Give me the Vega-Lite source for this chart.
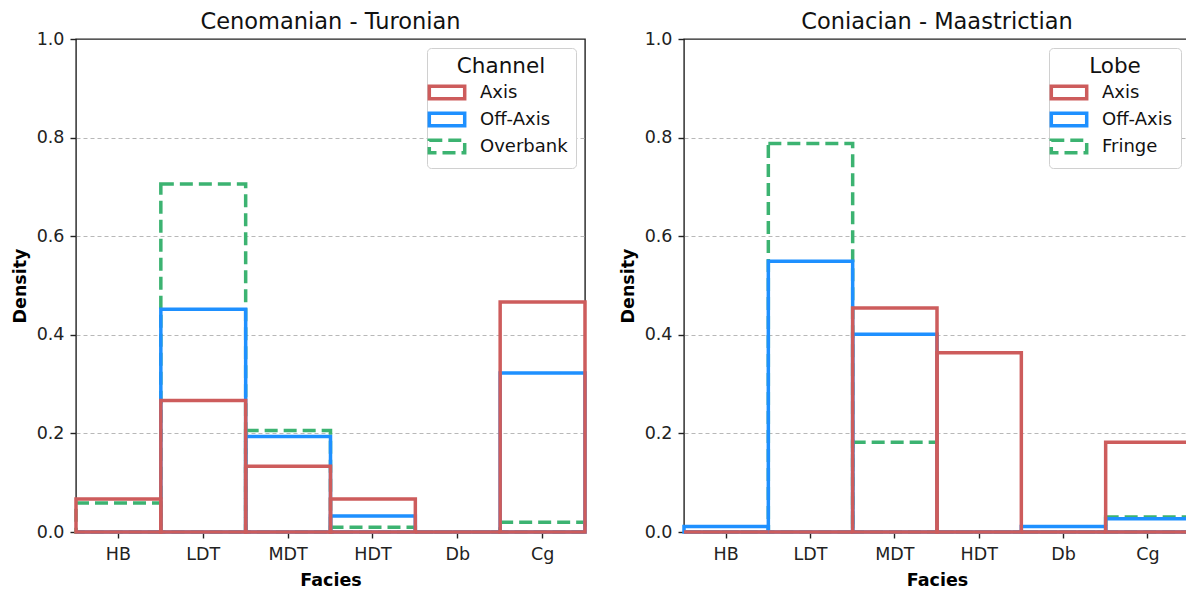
{
  "$schema": "https://vega.github.io/schema/vega-lite/v6.json",
  "padding": {"left": 10, "top": 9, "right": 0, "bottom": 0},
  "spacing": 30,
  "config": {
    "font": "DejaVu Sans",
    "view": {"stroke": "#222", "strokeWidth": 1.4},
    "axis": {"labelFont": "DejaVu Sans", "labelFontSize": 17.5, "labelColor": "#222", "titleFont": "DejaVu Sans", "titleFontSize": 17.5, "titleFontWeight": "bold", "titleColor": "#000", "tickColor": "#222", "tickSize": 6, "tickWidth": 1.4, "domain": false, "labelPadding": 5},
    "title": {"font": "DejaVu Sans", "fontSize": 22.5, "fontWeight": "normal", "color": "#111", "offset": -3},
    "legend": {"orient": "top-right", "offset": 9, "fillColor": "white", "strokeColor": "#d0d0d0", "cornerRadius": 4, "padding": 8, "titleFont": "DejaVu Sans", "titleFontSize": 21.5, "titleFontWeight": "normal", "titleColor": "#111", "titleAnchor": "middle", "titlePadding": 3, "labelFont": "DejaVu Sans", "labelFontSize": 18, "labelColor": "#111", "symbolType": "M-1.77,-0.62H1.77V0.62H-1.77Z", "symbolSize": 400, "symbolStrokeWidth": 3.5, "rowPadding": -1, "labelOffset": 21}
  },
  "datasets": {
    "left": [
      {"Facies": "HB", "Group": "Overbank", "Density": 0.0588},
      {"Facies": "LDT", "Group": "Overbank", "Density": 0.7059},
      {"Facies": "MDT", "Group": "Overbank", "Density": 0.2059},
      {"Facies": "HDT", "Group": "Overbank", "Density": 0.0098},
      {"Facies": "Db", "Group": "Overbank", "Density": 0},
      {"Facies": "Cg", "Group": "Overbank", "Density": 0.0196},
      {"Facies": "HB", "Group": "Off-Axis", "Density": 0},
      {"Facies": "LDT", "Group": "Off-Axis", "Density": 0.4516},
      {"Facies": "MDT", "Group": "Off-Axis", "Density": 0.1935},
      {"Facies": "HDT", "Group": "Off-Axis", "Density": 0.0323},
      {"Facies": "Db", "Group": "Off-Axis", "Density": 0},
      {"Facies": "Cg", "Group": "Off-Axis", "Density": 0.3226},
      {"Facies": "HB", "Group": "Axis", "Density": 0.0667},
      {"Facies": "LDT", "Group": "Axis", "Density": 0.2667},
      {"Facies": "MDT", "Group": "Axis", "Density": 0.1333},
      {"Facies": "HDT", "Group": "Axis", "Density": 0.0667},
      {"Facies": "Db", "Group": "Axis", "Density": 0},
      {"Facies": "Cg", "Group": "Axis", "Density": 0.4667}
    ],
    "right": [
      {"Facies": "HB", "Group": "Fringe", "Density": 0},
      {"Facies": "LDT", "Group": "Fringe", "Density": 0.7879},
      {"Facies": "MDT", "Group": "Fringe", "Density": 0.1818},
      {"Facies": "HDT", "Group": "Fringe", "Density": 0},
      {"Facies": "Db", "Group": "Fringe", "Density": 0},
      {"Facies": "Cg", "Group": "Fringe", "Density": 0.0303},
      {"Facies": "HB", "Group": "Off-Axis", "Density": 0.011},
      {"Facies": "LDT", "Group": "Off-Axis", "Density": 0.549},
      {"Facies": "MDT", "Group": "Off-Axis", "Density": 0.401},
      {"Facies": "HDT", "Group": "Off-Axis", "Density": 0},
      {"Facies": "Db", "Group": "Off-Axis", "Density": 0.011},
      {"Facies": "Cg", "Group": "Off-Axis", "Density": 0.027},
      {"Facies": "HB", "Group": "Axis", "Density": 0},
      {"Facies": "LDT", "Group": "Axis", "Density": 0},
      {"Facies": "MDT", "Group": "Axis", "Density": 0.4545},
      {"Facies": "HDT", "Group": "Axis", "Density": 0.3636},
      {"Facies": "Db", "Group": "Axis", "Density": 0},
      {"Facies": "Cg", "Group": "Axis", "Density": 0.1818}
    ]
  },
  "resolve": {"scale": {"color": "independent", "strokeDash": "independent"}, "legend": {"color": "independent", "strokeDash": "independent"}},
  "hconcat": [
    {
      "width": 509, "height": 493,
      "title": "Cenomanian - Turonian",
      "data": {"name": "left"},
      "mark": {"type": "bar", "filled": false, "strokeWidth": 3.5, "strokeJoin": "miter"},
      "encoding": {
        "x": {"field": "Facies", "type": "nominal", "sort": ["HB", "LDT", "MDT", "HDT", "Db", "Cg"], "scale": {"paddingInner": 0, "paddingOuter": 0}, "axis": {"labelAngle": 0, "title": "Facies", "titlePadding": 9, "labelPadding": 7}},
        "y": {"field": "Density", "type": "quantitative", "stack": null, "scale": {"domain": [0, 1], "nice": false}, "axis": {"values": [0, 0.2, 0.4, 0.6, 0.8, 1.0], "format": ".1f", "grid": true, "gridDash": [4, 3], "gridColor": {"condition": {"test": "datum.value >= 0.99 || datum.value <= 0.01", "value": "transparent"}, "value": "#b8b8b8"}, "gridWidth": 1, "title": "Density", "titlePadding": 7, "labelPadding": 6}},
        "color": {"field": "Group", "type": "nominal", "scale": {"domain": ["Axis", "Off-Axis", "Overbank"], "range": ["#cd5c5c", "#1e90ff", "#3cb371"]}, "legend": {"title": "Channel"}},
        "strokeDash": {"field": "Group", "type": "nominal", "scale": {"domain": ["Axis", "Off-Axis", "Overbank"], "range": [[1, 0], [1, 0], [13, 6]]}, "legend": {"title": "Channel"}}
      }
    },
    {
      "width": 506, "height": 493,
      "title": "Coniacian - Maastrictian",
      "data": {"name": "right"},
      "mark": {"type": "bar", "filled": false, "strokeWidth": 3.5, "strokeJoin": "miter"},
      "encoding": {
        "x": {"field": "Facies", "type": "nominal", "sort": ["HB", "LDT", "MDT", "HDT", "Db", "Cg"], "scale": {"paddingInner": 0, "paddingOuter": 0}, "axis": {"labelAngle": 0, "title": "Facies", "titlePadding": 9, "labelPadding": 7}},
        "y": {"field": "Density", "type": "quantitative", "stack": null, "scale": {"domain": [0, 1], "nice": false}, "axis": {"values": [0, 0.2, 0.4, 0.6, 0.8, 1.0], "format": ".1f", "grid": true, "gridDash": [4, 3], "gridColor": {"condition": {"test": "datum.value >= 0.99 || datum.value <= 0.01", "value": "transparent"}, "value": "#b8b8b8"}, "gridWidth": 1, "title": "Density", "titlePadding": 7, "labelPadding": 6}},
        "color": {"field": "Group", "type": "nominal", "scale": {"domain": ["Axis", "Off-Axis", "Fringe"], "range": ["#cd5c5c", "#1e90ff", "#3cb371"]}, "legend": {"title": "Lobe"}},
        "strokeDash": {"field": "Group", "type": "nominal", "scale": {"domain": ["Axis", "Off-Axis", "Fringe"], "range": [[1, 0], [1, 0], [13, 6]]}, "legend": {"title": "Lobe"}}
      }
    }
  ]
}
